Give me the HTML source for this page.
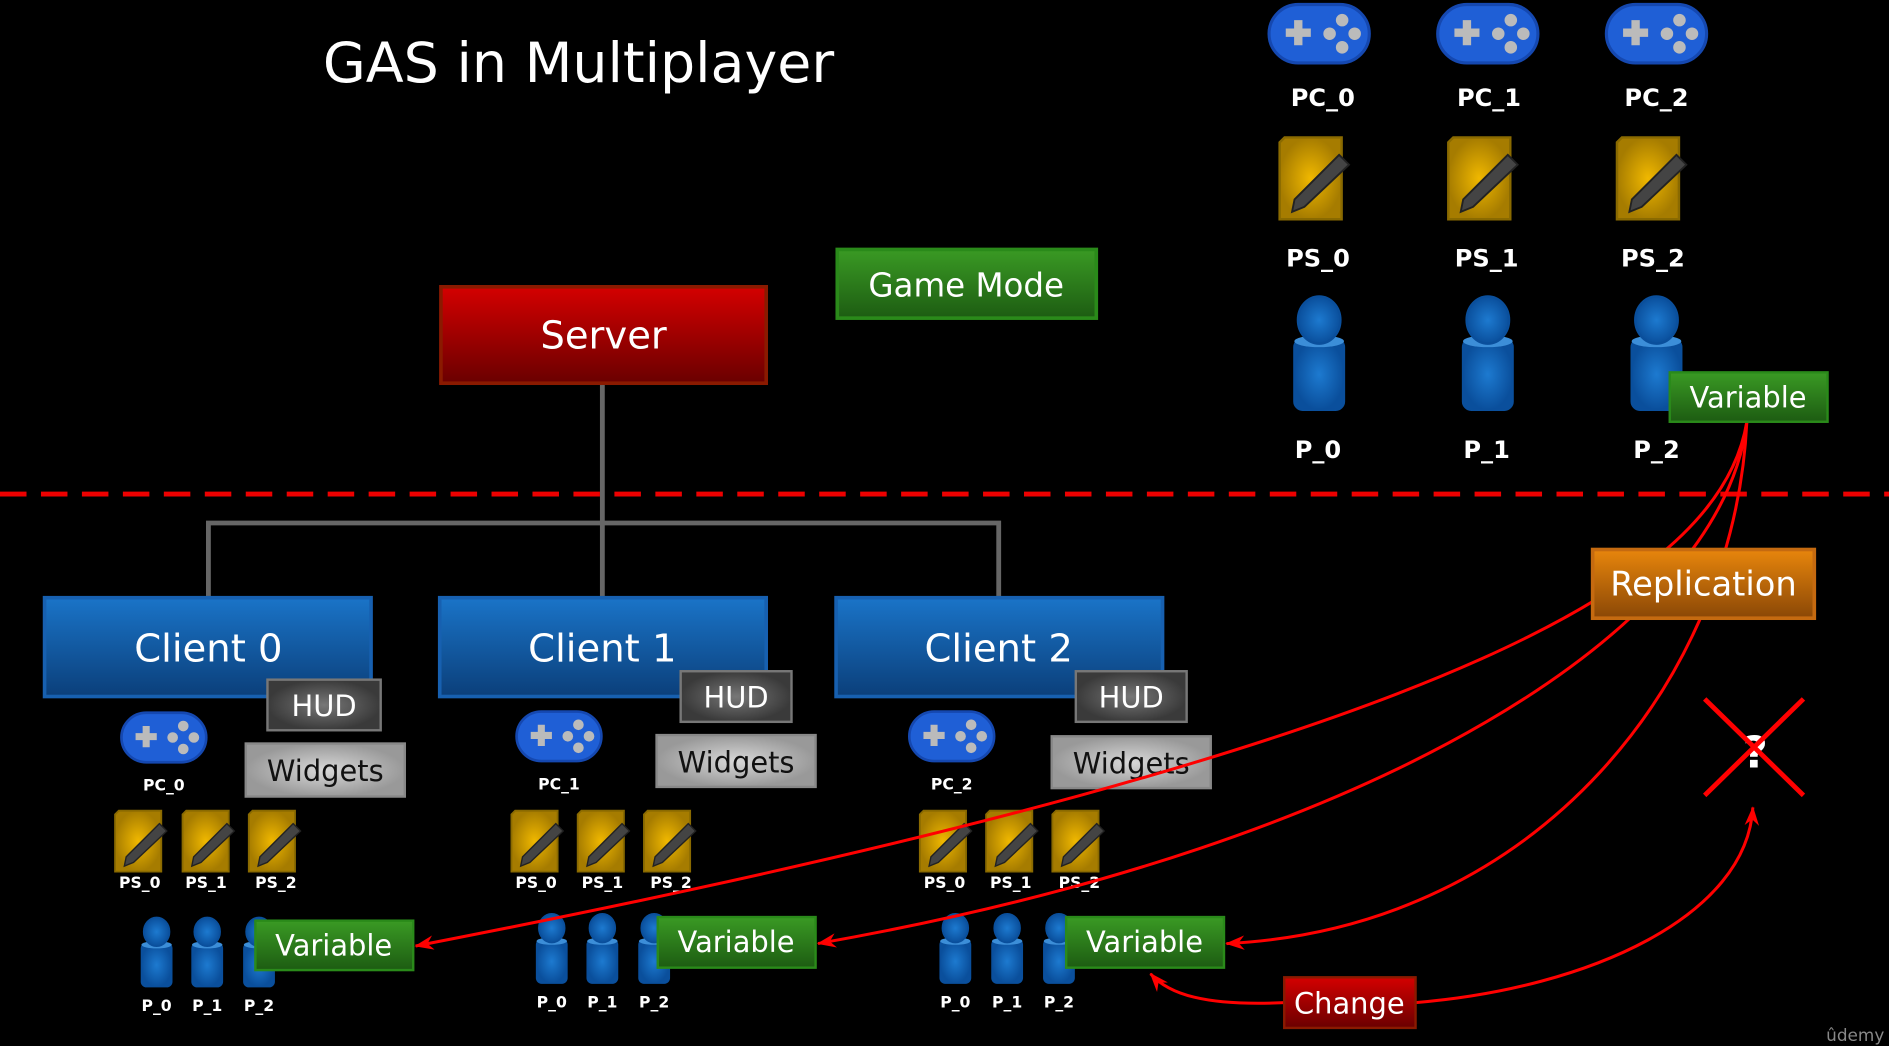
<!DOCTYPE html>
<html><head><meta charset="utf-8"><style>
html,body{margin:0;padding:0;background:#000;width:1889px;height:1046px;overflow:hidden}
svg{display:block}
text{font-family:"DejaVu Sans","Liberation Sans",sans-serif;}
</style></head><body>
<svg width="1889" height="1046" viewBox="0 0 1568 868" preserveAspectRatio="none" xmlns="http://www.w3.org/2000/svg">
<defs>
<linearGradient id="gRed" x1="0" y1="0" x2="0" y2="1"><stop offset="0" stop-color="#d40000"/><stop offset="1" stop-color="#6a0000"/></linearGradient>
<linearGradient id="gBlue" x1="0" y1="0" x2="0" y2="1"><stop offset="0" stop-color="#1a74c8"/><stop offset="1" stop-color="#0b3f7a"/></linearGradient>
<linearGradient id="gGreen" x1="0" y1="0" x2="0" y2="1"><stop offset="0" stop-color="#3a9a24"/><stop offset="1" stop-color="#1d5c12"/></linearGradient>
<linearGradient id="gOr" x1="0" y1="0" x2="0" y2="1"><stop offset="0" stop-color="#e8860c"/><stop offset="1" stop-color="#8a4706"/></linearGradient>
<radialGradient id="gHud"><stop offset="0" stop-color="#777"/><stop offset="1" stop-color="#3a3a3a"/></radialGradient>
<radialGradient id="gWid"><stop offset="0" stop-color="#d8d8d8"/><stop offset="1" stop-color="#999"/></radialGradient>
<radialGradient id="gY"><stop offset="0" stop-color="#f0b800"/><stop offset="1" stop-color="#a67c00"/></radialGradient>
<radialGradient id="gP"><stop offset="0" stop-color="#1d7ad0"/><stop offset="1" stop-color="#0a4f9c"/></radialGradient>
<symbol id="pad" viewBox="0 0 100 60">
<rect x="2" y="2" width="96" height="56" rx="28" fill="#1f5fd6" stroke="#1548b0" stroke-width="3"/>
<path d="M18 25h8v-8h8v8h8v8h-8v8h-8v-8h-8z" fill="#bbb"/>
<circle cx="72" cy="17" r="6" fill="#bbb"/><circle cx="72" cy="43" r="6" fill="#bbb"/><circle cx="60" cy="30" r="6" fill="#bbb"/><circle cx="84" cy="30" r="6" fill="#bbb"/>
</symbol>
<symbol id="ps" viewBox="0 0 60 70">
<path d="M2 6 L6 2 H52 V68 H2z" fill="url(#gY)" stroke="#8a6a00" stroke-width="2"/>
<path d="M14 52 L50 16 L58 24 L22 58 L12 62z" fill="#444" stroke="#222" stroke-width="1.5"/>
</symbol>
<symbol id="pawn" viewBox="0 0 50 100">
<rect x="4" y="38" width="42" height="60" rx="7" fill="url(#gP)" stroke="#0a4f9c" stroke-width="2"/>
<ellipse cx="25" cy="40" rx="21" ry="5" fill="#3c8ed8"/>
<ellipse cx="25" cy="22" rx="18" ry="20" fill="url(#gP)" stroke="#0a4f9c" stroke-width="2"/>
</symbol>
<marker id="ar" markerWidth="16" markerHeight="12" refX="15" refY="6" orient="auto" markerUnits="userSpaceOnUse"><path d="M0 0L16 6L0 12L5 6z" fill="#f00"/></marker>
</defs>
<rect width="1568" height="868" fill="#000"/>
<text x="268" y="68" font-size="46" fill="#fff">GAS in Multiplayer</text>

<g stroke="#666" stroke-width="4" fill="none">
<path d="M500 318V495M173 495V434H829V495"/>
</g>
<line x1="0" y1="410" x2="1568" y2="410" stroke="#e00" stroke-width="4" stroke-dasharray="22 12"/>

<rect x="366" y="238" width="270" height="80" fill="url(#gRed)" stroke="#8a1a00" stroke-width="3"/>
<text x="501" y="289" font-size="32" fill="#fff" text-anchor="middle">Server</text>
<rect x="695" y="207" width="215" height="57" fill="url(#gGreen)" stroke="#2a8a1a" stroke-width="3"/>
<text x="802" y="246" font-size="27" fill="#fff" text-anchor="middle" font-family="Liberation Mono,monospace">Game Mode</text>

<g font-size="32" fill="#fff" text-anchor="middle">
<rect x="37" y="496" width="271" height="82" fill="url(#gBlue)" stroke="#1760b0" stroke-width="3"/>
<text x="173" y="549">Client 0</text>
<rect x="365" y="496" width="271" height="82" fill="url(#gBlue)" stroke="#1760b0" stroke-width="3"/>
<text x="500" y="549">Client 1</text>
<rect x="694" y="496" width="271" height="82" fill="url(#gBlue)" stroke="#1760b0" stroke-width="3"/>
<text x="829" y="549">Client 2</text>
</g>

<g font-size="24" text-anchor="middle">
<rect x="222" y="564" width="94" height="42" fill="url(#gHud)" stroke="#777" stroke-width="2"/><text x="269" y="594" fill="#fff">HUD</text>
<rect x="204" y="617" width="132" height="44" fill="url(#gWid)" stroke="#888" stroke-width="2"/><text x="270" y="648" fill="#111">Widgets</text>
<rect x="565" y="557" width="92" height="42" fill="url(#gHud)" stroke="#777" stroke-width="2"/><text x="611" y="587" fill="#fff">HUD</text>
<rect x="545" y="610" width="132" height="43" fill="url(#gWid)" stroke="#888" stroke-width="2"/><text x="611" y="641" fill="#111">Widgets</text>
<rect x="893" y="557" width="92" height="42" fill="url(#gHud)" stroke="#777" stroke-width="2"/><text x="939" y="587" fill="#fff">HUD</text>
<rect x="873" y="611" width="132" height="43" fill="url(#gWid)" stroke="#888" stroke-width="2"/><text x="939" y="642" fill="#111">Widgets</text>
</g>

<use href="#pad" x="96" y="590" width="80" height="44"/>
<use href="#pad" x="424" y="589" width="80" height="44"/>
<use href="#pad" x="750" y="589" width="80" height="44"/>
<g font-size="13" font-weight="bold" fill="#fff" text-anchor="middle">
<text x="136" y="656">PC_0</text><text x="464" y="655">PC_1</text><text x="790" y="655">PC_2</text>
</g>
<g>
<use href="#ps" x="94" y="671" width="46" height="54"/><use href="#ps" x="150" y="671" width="46" height="54"/><use href="#ps" x="205" y="671" width="46" height="54"/>
<use href="#ps" x="423" y="671" width="46" height="54"/><use href="#ps" x="478" y="671" width="46" height="54"/><use href="#ps" x="533" y="671" width="46" height="54"/>
<use href="#ps" x="762" y="671" width="46" height="54"/><use href="#ps" x="817" y="671" width="46" height="54"/><use href="#ps" x="872" y="671" width="46" height="54"/>
</g>
<g font-size="13" font-weight="bold" fill="#fff" text-anchor="middle">
<text x="116" y="737">PS_0</text><text x="171" y="737">PS_1</text><text x="229" y="737">PS_2</text>
<text x="445" y="737">PS_0</text><text x="500" y="737">PS_1</text><text x="557" y="737">PS_2</text>
<text x="784" y="737">PS_0</text><text x="839" y="737">PS_1</text><text x="896" y="737">PS_2</text>
</g>
<g>
<use href="#pawn" x="115" y="760" width="30" height="60"/><use href="#pawn" x="157" y="760" width="30" height="60"/><use href="#pawn" x="200" y="760" width="30" height="60"/>
<use href="#pawn" x="443" y="757" width="30" height="60"/><use href="#pawn" x="485" y="757" width="30" height="60"/><use href="#pawn" x="528" y="757" width="30" height="60"/>
<use href="#pawn" x="778" y="757" width="30" height="60"/><use href="#pawn" x="821" y="757" width="30" height="60"/><use href="#pawn" x="864" y="757" width="30" height="60"/>
</g>
<g font-size="13" font-weight="bold" fill="#fff" text-anchor="middle">
<text x="130" y="839">P_0</text><text x="172" y="839">P_1</text><text x="215" y="839">P_2</text>
<text x="458" y="836">P_0</text><text x="500" y="836">P_1</text><text x="543" y="836">P_2</text>
<text x="793" y="836">P_0</text><text x="836" y="836">P_1</text><text x="879" y="836">P_2</text>
</g>

<use href="#pad" x="1047" y="2" width="96" height="52"/>
<use href="#pad" x="1187" y="2" width="96" height="52"/>
<use href="#pad" x="1327" y="2" width="96" height="52"/>
<g font-size="20" font-weight="bold" fill="#fff" text-anchor="middle">
<text x="1098" y="88">PC_0</text><text x="1236" y="88">PC_1</text><text x="1375" y="88">PC_2</text>
</g>
<use href="#ps" x="1060" y="112" width="62" height="72"/>
<use href="#ps" x="1200" y="112" width="62" height="72"/>
<use href="#ps" x="1340" y="112" width="62" height="72"/>
<g font-size="20" font-weight="bold" fill="#fff" text-anchor="middle">
<text x="1094" y="221">PS_0</text><text x="1234" y="221">PS_1</text><text x="1372" y="221">PS_2</text>
</g>
<use href="#pawn" x="1070" y="244" width="50" height="98"/>
<use href="#pawn" x="1210" y="244" width="50" height="98"/>
<use href="#pawn" x="1350" y="244" width="50" height="98"/>
<g font-size="20" font-weight="bold" fill="#fff" text-anchor="middle">
<text x="1094" y="380">P_0</text><text x="1234" y="380">P_1</text><text x="1375" y="380">P_2</text>
</g>

<g stroke="#f00" stroke-width="2.5" fill="none">
<path d="M1450 350 C1430 470, 1250 610, 345 785" marker-end="url(#ar)"/>
<path d="M1450 350 C1430 520, 1150 700, 679 783" marker-end="url(#ar)"/>
<path d="M1450 350 C1440 560, 1280 770, 1018 783" marker-end="url(#ar)"/>
<path d="M1066 832 C1000 835, 970 825, 955 808" marker-end="url(#ar)"/>
<path d="M1175 832 C1320 820, 1450 760, 1455 670" marker-end="url(#ar)"/>
</g>

<g font-size="24" fill="#fff" text-anchor="middle">
<rect x="212" y="764" width="131" height="41" fill="url(#gGreen)" stroke="#2a8a1a" stroke-width="2"/><text x="277" y="793">Variable</text>
<rect x="546" y="761" width="131" height="42" fill="url(#gGreen)" stroke="#2a8a1a" stroke-width="2"/><text x="611" y="790">Variable</text>
<rect x="885" y="761" width="131" height="42" fill="url(#gGreen)" stroke="#2a8a1a" stroke-width="2"/><text x="950" y="790">Variable</text>
<rect x="1386" y="309" width="131" height="41" fill="url(#gGreen)" stroke="#2a8a1a" stroke-width="2"/><text x="1451" y="338">Variable</text>
</g>

<rect x="1322" y="456" width="184" height="57" fill="url(#gOr)" stroke="#c56a10" stroke-width="3"/>
<text x="1414" y="494" font-size="28" fill="#fff" text-anchor="middle">Replication</text>

<rect x="1066" y="811" width="109" height="42" fill="url(#gRed)" stroke="#8a1a00" stroke-width="2"/>
<text x="1120" y="841" font-size="24" fill="#fff" text-anchor="middle">Change</text>

<text x="1457" y="637" font-size="36" font-weight="bold" fill="#fff" text-anchor="middle">?</text>
<g stroke="#f00" stroke-width="4"><line x1="1415" y1="580" x2="1497" y2="660"/><line x1="1497" y1="580" x2="1415" y2="660"/></g>

<text x="1540" y="864" font-size="14" fill="#888" text-anchor="middle">ûdemy</text>
</svg>
</body></html>
